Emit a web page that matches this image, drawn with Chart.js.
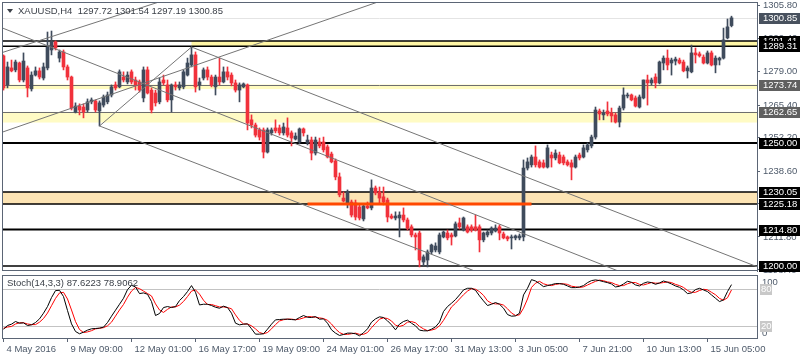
<!DOCTYPE html>
<html>
<head>
<meta charset="utf-8">
<script src="https://cdn.jsdelivr.net/npm/chart.js@4.4.0/dist/chart.umd.min.js"></script>
<style>
  html, body { margin: 0; padding: 0; background: #fff; }
  #wrap { position: relative; width: 800px; height: 360px; overflow: hidden; background: #fff; }
  #mainBox { position: absolute; left: 0; top: 0; width: 800px; height: 273px; }
  #stochBox { position: absolute; left: 0; top: 273px; width: 800px; height: 87px; }
</style>
</head>
<body>
<div id="wrap">
  <div id="mainBox"><canvas id="mainChart" width="800" height="273"></canvas></div>
  <div id="stochBox"><canvas id="stochChart" width="800" height="87"></canvas></div>
</div>
<script>
'use strict';

// XAUUSD H4 candles (index = bar number)
const opens = [
  1285.4,1273.6,1280.5,1279.7,1282.5,1275.6,1280.5,1272.0,1277.6,1279.3,
  1276.4,1280.5,1287.8,1291.1,1284.5,1287.0,1280.9,1276.8,1262.6,1265.0,
  1264.6,1263.4,1266.7,1267.1,1263.0,1265.4,1266.7,1269.5,1273.6,1272.8,
  1276.8,1274.8,1278.9,1275.6,1274.8,1268.3,1279.7,1271.5,1270.3,1266.7,
  1275.6,1273.6,1267.5,1273.6,1272.4,1272.8,1277.6,1281.7,1285.8,1273.6,
  1276.4,1279.7,1276.8,1272.8,1276.8,1274.8,1278.9,1277.6,1274.4,1271.5,
  1272.8,1273.6,1259.4,1257.3,1255.3,1255.3,1246.3,1254.1,1256.1,1256.1,
  1254.1,1256.1,1254.1,1251.6,1250.4,1255.7,1250.0,1251.2,1245.9,1250.4,
  1250.4,1248.4,1245.5,1242.7,1236.2,1227.6,1225.6,1226.0,1225.6,1224.0,
  1219.1,1224.4,1223.6,1231.7,1230.1,1228.1,1226.8,1220.3,1219.5,1219.5,
  1220.7,1218.7,1215.9,1212.6,1213.4,1201.6,1202.4,1205.7,1206.5,1205.7,
  1211.8,1213.4,1212.6,1212.2,1217.5,1214.6,1215.9,1215.9,1215.9,1215.9,
  1210.6,1212.6,1213.4,1214.2,1215.9,1213.0,1211.8,1211.4,1211.4,1211.4,
  1211.8,1239.8,1241.1,1244.3,1242.3,1241.9,1240.2,1245.1,1243.9,1245.1,
  1244.3,1242.3,1241.9,1240.2,1245.1,1244.3,1247.2,1248.8,1252.4,1263.0,
  1261.4,1263.0,1262.2,1261.4,1258.5,1264.2,1269.1,1269.5,1268.3,1264.6,
  1268.3,1275.6,1274.4,1276.8,1274.4,1282.5,1284.5,1282.5,1283.3,1283.7,
  1282.9,1279.3,1278.9,1286.6,1286.2,1284.9,1282.5,1286.6,1281.7,1283.7,
  1284.5,1292.7,1297.72
];
const highs = [
  1285.8,1282.9,1283.7,1283.7,1282.9,1286.6,1281.3,1278.9,1280.9,1280.5,
  1282.5,1295.1,1295.5,1291.5,1287.8,1287.8,1281.7,1277.2,1266.3,1265.9,
  1265.9,1267.9,1268.3,1267.5,1267.1,1269.5,1270.7,1273.6,1274.8,1279.7,
  1278.9,1278.9,1279.7,1276.8,1275.6,1280.9,1280.9,1272.4,1271.5,1276.4,
  1277.6,1275.6,1274.0,1274.8,1274.8,1279.7,1284.5,1289.0,1287.0,1276.4,
  1280.5,1280.9,1277.6,1277.6,1284.5,1280.9,1280.9,1278.5,1275.6,1274.4,
  1274.4,1274.0,1261.4,1258.1,1256.1,1256.1,1256.1,1256.1,1259.4,1257.3,
  1258.1,1260.2,1254.9,1254.1,1256.1,1256.1,1253.2,1252.4,1252.4,1252.0,
  1252.4,1249.2,1246.3,1243.5,1237.8,1230.1,1230.9,1226.8,1226.8,1224.8,
  1225.2,1226.0,1235.0,1232.5,1232.1,1232.1,1227.6,1221.1,1222.0,1222.0,
  1223.6,1219.5,1216.7,1213.4,1214.2,1204.5,1206.5,1208.9,1209.4,1213.4,
  1214.2,1214.6,1213.4,1217.9,1219.5,1219.9,1216.7,1216.7,1220.7,1216.7,
  1213.8,1214.6,1215.9,1216.7,1216.7,1213.8,1212.2,1212.6,1212.6,1213.0,
  1243.1,1243.9,1245.1,1248.8,1243.1,1243.1,1249.2,1246.3,1247.2,1246.3,
  1245.1,1243.1,1243.1,1245.1,1245.9,1249.2,1250.0,1253.2,1264.6,1263.8,
  1263.4,1266.7,1264.2,1262.2,1265.0,1272.4,1270.3,1269.9,1269.1,1269.5,
  1275.6,1277.6,1276.4,1278.1,1283.3,1285.4,1287.8,1284.5,1284.9,1284.5,
  1283.7,1281.3,1289.8,1288.6,1287.0,1285.8,1287.4,1287.4,1285.4,1284.9,
  1296.7,1300.4,1301.54
];
const lows = [
  1271.5,1272.4,1278.9,1278.9,1274.8,1274.8,1268.7,1271.1,1277.2,1276.0,
  1275.6,1279.7,1285.8,1287.8,1282.9,1279.7,1275.6,1263.4,1262.2,1261.4,
  1260.2,1262.6,1265.9,1262.6,1256.9,1264.6,1265.9,1268.7,1271.5,1272.4,
  1274.8,1274.0,1274.0,1271.5,1270.7,1266.7,1269.9,1262.2,1265.0,1265.9,
  1273.6,1266.7,1262.6,1271.5,1271.5,1272.0,1277.2,1280.9,1270.7,1271.5,
  1275.6,1275.6,1272.8,1269.5,1273.6,1274.4,1275.6,1273.2,1270.7,1266.7,
  1272.4,1255.3,1256.1,1252.4,1251.2,1243.9,1245.9,1253.2,1254.1,1253.2,
  1253.2,1252.4,1248.8,1251.2,1249.6,1252.8,1249.2,1243.1,1245.1,1248.0,
  1246.3,1243.9,1241.9,1235.0,1228.1,1226.0,1223.6,1219.9,1218.7,1218.7,
  1218.3,1223.2,1222.8,1228.9,1225.6,1224.8,1217.9,1219.1,1218.7,1211.8,
  1217.9,1214.6,1211.8,1206.5,1199.6,1200.0,1199.6,1204.9,1205.7,1204.9,
  1211.4,1210.6,1208.5,1211.8,1215.0,1214.2,1213.4,1213.8,1214.2,1205.7,
  1209.8,1211.8,1212.6,1213.8,1210.6,1211.0,1210.2,1206.9,1210.6,1210.6,
  1210.2,1239.0,1240.2,1240.2,1239.8,1239.8,1239.8,1240.2,1243.1,1241.5,
  1241.1,1240.6,1235.0,1239.8,1243.1,1243.9,1246.3,1248.0,1251.6,1259.4,
  1259.4,1261.0,1258.5,1258.1,1256.5,1263.4,1268.3,1267.1,1264.6,1264.2,
  1267.9,1265.4,1273.6,1272.4,1274.0,1279.7,1279.7,1277.6,1281.7,1282.1,
  1278.9,1276.4,1278.5,1282.5,1284.9,1282.1,1282.1,1281.3,1278.5,1281.7,
  1284.1,1292.3,1297.19
];
const closes = [
  1272.4,1280.9,1279.3,1282.9,1275.6,1283.3,1272.4,1277.6,1279.3,1276.8,
  1280.9,1289.0,1291.1,1288.6,1287.0,1280.9,1276.8,1264.2,1265.0,1263.4,
  1262.6,1266.7,1267.5,1263.4,1266.3,1268.7,1269.5,1272.8,1272.4,1278.9,
  1275.6,1277.6,1274.8,1273.6,1271.5,1279.7,1270.3,1263.4,1266.3,1274.8,
  1274.4,1267.5,1273.6,1272.8,1273.6,1278.9,1282.5,1285.8,1272.8,1274.8,
  1279.7,1276.8,1273.6,1276.8,1274.8,1278.9,1276.8,1274.4,1271.5,1273.6,
  1274.0,1258.1,1257.3,1253.2,1252.4,1246.3,1255.3,1255.3,1254.9,1254.1,
  1256.5,1253.2,1252.0,1252.8,1255.7,1254.1,1251.2,1245.9,1251.2,1248.8,
  1247.2,1244.3,1242.3,1236.2,1228.9,1226.4,1230.1,1220.7,1219.9,1219.5,
  1224.4,1223.6,1231.7,1229.7,1227.6,1226.0,1219.9,1219.5,1220.3,1220.7,
  1218.7,1215.4,1212.6,1211.8,1202.4,1203.7,1205.7,1208.5,1208.1,1212.6,
  1213.8,1211.4,1211.8,1217.1,1215.9,1219.5,1213.8,1214.6,1214.6,1210.6,
  1213.4,1213.8,1215.4,1215.4,1213.4,1211.4,1211.0,1211.8,1212.2,1212.2,
  1239.8,1242.3,1244.3,1241.1,1240.2,1240.2,1248.0,1243.9,1245.9,1241.9,
  1241.9,1241.1,1240.2,1244.3,1243.9,1248.0,1249.2,1252.4,1263.4,1261.8,
  1262.2,1261.8,1261.0,1258.5,1264.2,1269.5,1269.5,1267.5,1265.0,1268.7,
  1275.6,1274.4,1275.6,1274.4,1282.9,1284.5,1281.7,1283.7,1284.1,1282.5,
  1279.3,1280.5,1286.6,1285.8,1285.4,1282.5,1286.6,1281.7,1284.5,1284.5,
  1291.9,1297.2,1300.85
];

// Stoch(14,3,3): %K (black) and %D (red)
const stochK = [
  14.5,20.5,22.7,27.1,24.3,24.9,20.5,21.6,25.4,31.4,
  40.7,51.6,66.3,77.8,78.3,68.0,45.1,23.2,10.7,6.9,
  9.6,12.9,15.1,15.6,16.2,17.8,25.4,35.8,45.6,55.4,
  65.2,79.4,86.5,83.8,72.9,74.0,71.8,59.8,36.9,40.2,
  50.0,51.6,50.0,51.6,61.4,68.0,76.2,86.0,75.1,54.3,
  55.4,55.4,53.3,50.5,48.9,52.2,50.0,40.7,24.3,21.6,
  22.7,23.2,15.1,6.3,6.3,6.9,14.5,22.7,29.8,30.3,
  30.9,30.9,30.3,29.8,33.6,36.9,34.1,33.6,35.2,30.9,
  31.4,24.3,13.4,8.0,4.2,5.8,8.0,8.0,6.9,3.6,
  8.5,15.1,26.0,31.4,34.7,33.6,28.2,21.6,13.4,22.7,
  27.1,29.3,24.3,20.0,12.9,11.8,11.8,14.5,18.3,26.0,
  43.4,51.6,57.1,63.1,70.7,78.9,81.6,81.6,78.3,69.1,
  60.9,53.3,55.4,58.2,55.4,48.9,38.5,35.8,36.3,40.7,
  70.7,81.6,95.8,93.6,89.3,84.3,86.0,87.6,89.3,89.3,
  88.2,85.4,82.7,82.7,83.8,86.0,90.9,94.2,95.3,94.2,
  92.5,90.9,88.7,83.8,84.9,88.7,93.1,91.4,87.1,85.4,
  89.8,92.0,90.9,88.2,90.3,93.6,91.4,88.7,85.4,83.2,
  78.9,72.9,74.0,79.4,81.6,78.9,76.2,70.7,65.2,59.8,
  62.5,76.2,87.6223
];
const stochD = [
  16,18,19,23,25,25,23,22,22,26,
  32,41,53,65,74,75,64,46,27,14,
  9,10,12,15,16,17,20,26,36,46,
  55,67,77,83,81,77,73,69,56,46,
  42,47,51,51,54,60,68,77,79,72,
  62,55,55,53,51,51,50,48,38,29,
  23,23,20,15,9,7,9,15,22,28,
  30,31,31,30,31,33,35,35,34,33,
  32,29,23,15,9,6,6,7,8,6,
  6,9,17,24,31,33,32,28,21,19,
  21,26,27,25,19,15,12,13,15,20,
  29,40,51,57,64,71,77,81,80,76,
  70,61,57,56,56,54,48,41,37,38,
  49,64,83,90,93,89,87,86,88,89,
  89,88,85,84,83,84,87,90,93,95,
  94,92,91,88,86,86,89,91,91,88,
  87,89,91,90,90,91,92,91,88,86,
  83,78,75,75,78,80,79,75,71,65,
  62,66,78.9062
];

// time axis
const timeTicks = [0, 16, 32, 48, 64, 80, 96, 112, 128, 144, 160, 176];
const timeLabels = ['4 May 2016', '9 May 09:00', '12 May 01:00', '16 May 17:00', '19 May 09:00',
  '24 May 01:00', '26 May 17:00', '31 May 13:00', '3 Jun 05:00', '7 Jun 21:00', '10 Jun 13:00', '15 Jun 05:00'];

// price axis
const priceTicks = [1305.80, 1292.40, 1279.00, 1265.40, 1252.20, 1238.60, 1225.20, 1211.80, 1198.40];
const bidPrice = 1300.85;

// horizontal lines drawn on the chart
const levelPrices = [1291.41, 1289.31, 1273.74, 1262.65, 1250.00, 1230.05, 1225.18, 1214.80, 1200.00];
// zones: [bottom, top, first bar]
const zoneBottoms = [1289.31, 1271.9, 1258.3, 1225.18];
const zoneTops = [1291.41, 1273.74, 1262.65, 1230.05];
const zoneStarts = [47, null, null, null];

// trend lines: [bar1, price1, bar2, price2]
const trendLines = [
  [-1, 1254.0, 95, 1308.1],
  [-1, 1286.4, 40, 1307.9],
  [-1, 1297.2, 160, 1193.9],
  [47, 1289.0, 189, 1199.3],
  [24, 1256.9, 140, 1184.0],
  [24, 1256.9, 47, 1289.0]
];
const supportSeg = [76, 132, 1225.18];

// styles
const bullCol = '#3f4b5c', bearCol = '#f1313b';
const textCol = '#4e5a6a';
const frameCol = '#5b6575';
const FONT = 'Liberation Sans, Arial, sans-serif';
const levelColors = ['#000', '#000', '#6e6e6e', '#6e6e6e', '#000', '#000', '#000', '#000', '#000'];
const levelWidths = [1.5, 1.5, 1, 1, 2, 1.5, 1.5, 2, 1.5];
const zoneColors = ['#fff6a6', '#fffbbf', '#fffbc4', '#fde4b4'];
const boxPrices = [1300.85, 1291.41, 1289.31, 1273.74, 1262.65, 1250.00, 1230.05, 1225.18, 1214.80, 1200.00];
const boxColors = ['#48515e', '#000', '#000', '#606060', '#606060', '#000', '#000', '#000', '#000', '#000'];

const xMin = -0.375, xMax = 188.375;

function hline(ctx, x0, x1, yy) {
  ctx.beginPath();
  ctx.moveTo(x0, yy);
  ctx.lineTo(x1, yy);
  ctx.stroke();
}

const candleCols = closes.map((c, i) => (c >= opens[i] ? bullCol : bearCol));

const mainDecor = {
  id: 'mainDecor',
  beforeDatasetsDraw(chart) {
    const { ctx, chartArea: a, scales: { x, y } } = chart;
    ctx.save();
    ctx.beginPath();
    ctx.rect(a.left, a.top, a.width, a.height);
    ctx.clip();
    for (let i = 0; i < zoneTops.length; i++) {
      const x0 = zoneStarts[i] === null ? a.left : x.getPixelForValue(zoneStarts[i]);
      const y1 = y.getPixelForValue(zoneTops[i]);
      const y2 = y.getPixelForValue(zoneBottoms[i]);
      ctx.fillStyle = zoneColors[i];
      ctx.fillRect(x0, y1, a.right - x0, y2 - y1);
    }
    ctx.strokeStyle = '#e4e4e4';
    ctx.lineWidth = 1;
    hline(ctx, a.left, a.right, Math.round(y.getPixelForValue(bidPrice)) + 0.5);
    for (let i = 0; i < levelPrices.length; i++) {
      ctx.strokeStyle = levelColors[i];
      ctx.lineWidth = levelWidths[i];
      let yy = y.getPixelForValue(levelPrices[i]);
      if (levelWidths[i] === 1) yy = Math.round(yy) + 0.5;
      hline(ctx, a.left, a.right, yy);
    }
    ctx.restore();
  },
  afterDraw(chart) {
    const { ctx, chartArea: a, scales: { y } } = chart;
    ctx.save();
    // panel frame
    ctx.strokeStyle = frameCol;
    ctx.lineWidth = 1;
    ctx.strokeRect(a.left + 0.5, a.top + 0.5, a.width, a.height - 1);
    // header
    ctx.fillStyle = '#3a3f47';
    ctx.beginPath();
    ctx.moveTo(7, 9); ctx.lineTo(13, 9); ctx.lineTo(10, 13); ctx.closePath();
    ctx.fill();
    ctx.font = '9.5px ' + FONT;
    ctx.textBaseline = 'middle';
    ctx.fillStyle = '#3a3f47';
    ctx.fillText('XAUUSD,H4  1297.72 1301.54 1297.19 1300.85', 18, 11);
    // price boxes on the axis
    for (let i = 0; i < boxPrices.length; i++) {
      const yy = Math.round(y.getPixelForValue(boxPrices[i]));
      ctx.fillStyle = boxColors[i];
      ctx.fillRect(759, yy - 5, 41, 11);
      ctx.fillStyle = '#fff';
      ctx.fillText(boxPrices[i].toFixed(2), 763, yy + 0.5);
    }
    ctx.restore();
  }
};

const lineSets = trendLines.map(t => ({
  type: 'line',
  data: [{ x: t[0], y: t[1] }, { x: t[2], y: t[3] }],
  borderColor: '#757575',
  borderWidth: 1,
  pointRadius: 0,
  fill: false,
  order: 0
}));
lineSets.push({
  type: 'line',
  data: [{ x: supportSeg[0], y: supportSeg[2] }, { x: supportSeg[1], y: supportSeg[2] }],
  borderColor: '#ff4800',
  borderWidth: 3,
  pointRadius: 0,
  fill: false,
  order: 0
});

new Chart(document.getElementById('mainChart'), {
  type: 'bar',
  data: {
    datasets: [
      {
        type: 'bar',
        data: lows.map((l, i) => ({ x: i, y: [l, highs[i]] })),
        backgroundColor: candleCols,
        barThickness: 1,
        grouped: false,
        order: 2
      },
      {
        type: 'bar',
        data: opens.map((o, i) => ({ x: i, y: [o, closes[i]] })),
        backgroundColor: candleCols,
        barThickness: 3,
        minBarLength: 1,
        grouped: false,
        order: 1
      },
      ...lineSets
    ]
  },
  options: {
    responsive: false,
    animation: false,
    layout: { padding: { left: 2, top: 2, right: 0, bottom: 2 } },
    plugins: { legend: { display: false }, tooltip: { enabled: false } },
    scales: {
      x: {
        type: 'linear', min: xMin, max: xMax, offset: false, display: false,
        grid: { offset: false }
      },
      y: {
        position: 'right', min: 1197.95, max: 1307.3, beginAtZero: false,
        afterBuildTicks: s => { s.ticks = priceTicks.map(v => ({ value: v })); },
        afterFit: s => { s.width = 43; s.paddingTop = 0; s.paddingBottom = 0; },
        ticks: {
          callback: v => Number(v).toFixed(2), color: textCol, padding: 3,
          autoSkip: false, font: { family: FONT, size: 9.5 }
        },
        grid: { drawOnChartArea: false, drawTicks: true, tickLength: 3, color: frameCol },
        border: { display: true, color: frameCol }
      }
    }
  },
  plugins: [mainDecor]
});

const stochDecor = {
  id: 'stochDecor',
  beforeDatasetsDraw(chart) {
    const { ctx, chartArea: a, scales: { y } } = chart;
    ctx.save();
    ctx.strokeStyle = '#c3c3c3';
    ctx.lineWidth = 1;
    [20, 80].forEach(v => hline(ctx, a.left, a.right, Math.round(y.getPixelForValue(v)) + 0.5));
    ctx.restore();
  },
  afterDraw(chart) {
    const { ctx, chartArea: a, scales: { y } } = chart;
    ctx.save();
    ctx.strokeStyle = frameCol;
    ctx.lineWidth = 1;
    ctx.strokeRect(a.left + 0.5, a.top + 0.5, a.width, a.height);
    ctx.font = '9.5px ' + FONT;
    ctx.textBaseline = 'middle';
    ctx.fillStyle = '#3a3f47';
    ctx.fillText('Stoch(14,3,3) 87.6223 78.9062', 7, 10);
    // right scale
    ctx.fillStyle = textCol;
    ctx.fillText('100', 762, y.getPixelForValue(100) + 5);
    ctx.fillText('0', 762, y.getPixelForValue(0) - 5);
    [80, 20].forEach(v => {
      const yy = Math.round(y.getPixelForValue(v));
      ctx.fillStyle = '#c8c8c8';
      ctx.fillRect(760, yy - 5, 12, 11);
      ctx.fillStyle = '#fff';
      ctx.fillText(String(v), 761, yy + 0.5);
    });
    ctx.restore();
  }
};

new Chart(document.getElementById('stochChart'), {
  type: 'line',
  data: {
    datasets: [
      {
        data: stochK.map((v, i) => ({ x: i, y: v })),
        borderColor: '#000', borderWidth: 1, pointRadius: 0, tension: 0, order: 0
      },
      {
        data: stochD.map((v, i) => ({ x: i, y: v })),
        borderColor: '#ff0000', borderWidth: 1, pointRadius: 0, tension: 0, order: 1
      }
    ]
  },
  options: {
    responsive: false,
    animation: false,
    layout: { padding: { left: 2, top: 2, right: 0, bottom: 0 } },
    plugins: { legend: { display: false }, tooltip: { enabled: false } },
    scales: {
      x: {
        type: 'linear', min: xMin, max: xMax, offset: false,
        afterBuildTicks: s => { s.ticks = timeTicks.map(v => ({ value: v })); },
        afterFit: s => { s.height = 22; s.paddingLeft = 0; s.paddingRight = 0; },
        ticks: {
          callback: v => timeLabels[timeTicks.indexOf(v)], align: 'start', labelOffset: 3,
          maxRotation: 0, autoSkip: false, padding: 2, color: textCol,
          font: { family: FONT, size: 9.5 }
        },
        grid: { drawOnChartArea: false, drawTicks: true, tickLength: 4, color: frameCol },
        border: { display: true, color: frameCol }
      },
      y: {
        position: 'right', min: 0, max: 103.4,
        afterFit: s => { s.width = 43; s.paddingTop = 0; s.paddingBottom = 0; },
        ticks: { display: false },
        grid: { display: false },
        border: { display: true, color: frameCol }
      }
    }
  },
  plugins: [stochDecor]
});
</script>
</body>
</html>
